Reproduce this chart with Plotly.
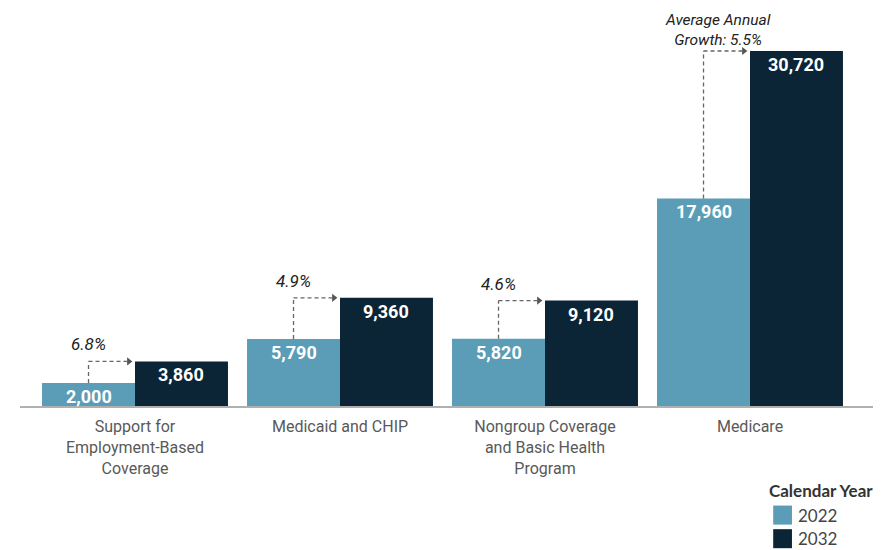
import plotly.graph_objects as go

categories = ["Support for<br>Employment-Based<br>Coverage", "Medicaid and CHIP",
              "Nongroup Coverage<br>and Basic Health<br>Program", "Medicare"]
years = ["2022", "2032"]
values_2022 = [2000, 5790, 5820, 17960]
values_2032 = [3860, 9360, 9120, 30720]
growth_labels = ["6.8%", "4.9%", "4.6%", "Average Annual<br>Growth: 5.5%"]

c22 = "#5b9cb6"
c32 = "#0b2537"
FONT = "Roboto"
bargap = 0.093
half = (1 - bargap) / 4  # center offset of each bar in a group

fig = go.Figure()
fig.add_bar(x=list(range(4)), y=values_2022, name=years[0], marker_color=c22,
            marker_line_width=0, showlegend=False)
fig.add_bar(x=list(range(4)), y=values_2032, name=years[1], marker_color=c32,
            marker_line_width=0, showlegend=False)

ann = []
shapes = []
for i in range(4):
    for off, v in ((-half, values_2022[i]), (half, values_2032[i])):
        ann.append(dict(x=i + off, y=v, xref="x", yref="y", text=f"<b>{v:,}</b>",
                        showarrow=False, yanchor="top", yshift=-1,
                        font=dict(family=FONT, size=18, color="white")))
    x0 = i - half
    y0 = values_2022[i]
    y1 = values_2032[i]
    dash = dict(color="#666666", width=1.3, dash="4px,3px")
    shapes.append(dict(type="line", xref="x", yref="y", x0=x0, x1=x0, y0=y0, y1=y1, line=dash))
    shapes.append(dict(type="line", xref="x", yref="y", x0=x0, x1=i - 0.035, y0=y1, y1=y1, line=dash))
    multi = "<br>" in growth_labels[i]
    ann.append(dict(x=x0, y=y1, xref="x", yref="y", text=f"<i>{growth_labels[i]}</i>",
                    showarrow=False, yanchor="bottom", yshift=0 if multi else 5,
                    xshift=14 if multi else 0,
                    font=dict(family=FONT, size=15.5 if multi else 17, color="#222222")))

# arrowheads
fig.add_scatter(x=[i - 0.03 for i in range(4)], y=values_2032, mode="markers",
                marker=dict(symbol="triangle-right", size=7, color="#555555"),
                showlegend=False, hoverinfo="skip")

# manual legend
ann.append(dict(x=0.876, y=-0.232, xref="paper", yref="paper", text="<b>Calendar Year</b>",
                showarrow=False, xanchor="left", yanchor="middle",
                font=dict(family="Lato", size=17, color="#333333")))
for k, (yr, col) in enumerate(zip(years, [c22, c32])):
    yc = -0.298 - k * 0.0645
    shapes.append(dict(type="rect", xref="paper", yref="paper",
                       x0=0.883, x1=0.905, y0=yc - 0.026, y1=yc + 0.026,
                       fillcolor=col, line_width=0))
    ann.append(dict(x=0.910, y=yc, xref="paper", yref="paper", text=yr,
                    showarrow=False, xanchor="left", yanchor="middle",
                    font=dict(family="Lato", size=17, color="#444444")))

fig.update_layout(
    width=873, height=542,
    margin=dict(l=12, r=8, t=32, b=144),
    plot_bgcolor="white", paper_bgcolor="white",
    barmode="group", bargap=bargap, bargroupgap=0,
    annotations=ann, shapes=shapes,
    xaxis=dict(range=[-0.561, 3.6], tickmode="array", tickvals=list(range(4)),
               ticktext=categories, showline=True, linecolor="#b0b0b0", linewidth=2,
               ticks="", showgrid=False, zeroline=False, ticklabelstandoff=5,
               tickfont=dict(family=FONT, size=16, color="#595959")),
    yaxis=dict(range=[0, 31672], visible=False, showgrid=False, zeroline=False),
)
fig.write_html("out.html")
